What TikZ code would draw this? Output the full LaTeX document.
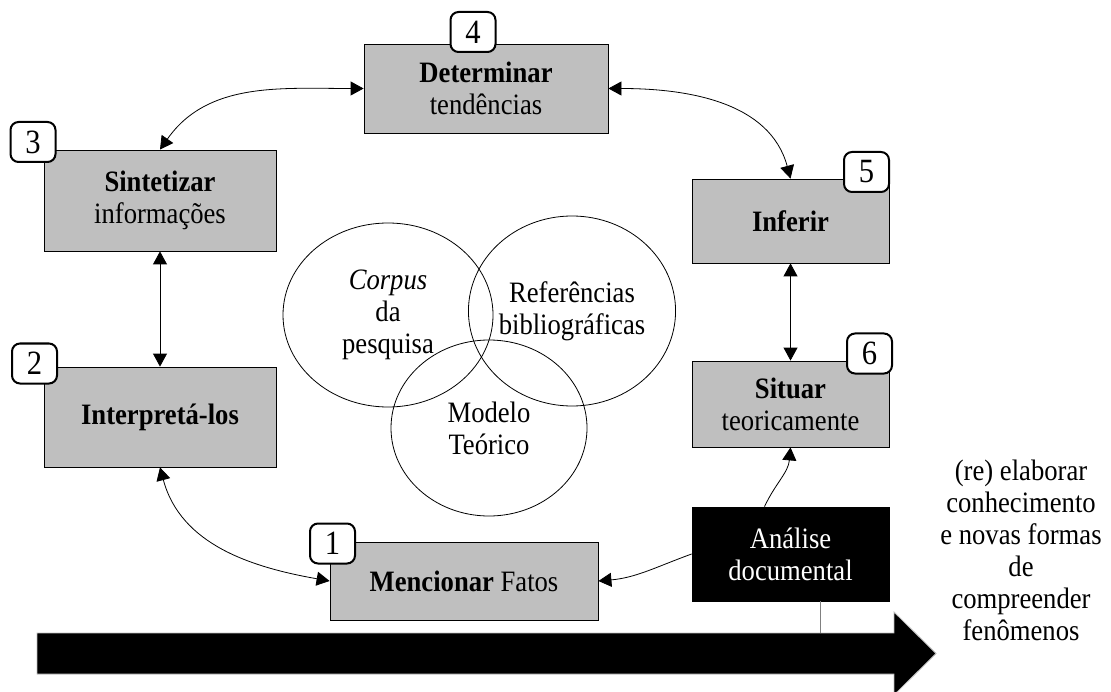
\documentclass[tikz,border=0pt]{standalone}
\usepackage{fontspec}
\setmainfont{Liberation Serif}[FakeStretch=0.9]
\usetikzlibrary{shapes,arrows.meta}
\tikzstyle{block} = [rectangle, draw, fill=gray!50, align=center, inner sep=2pt]
\tikzstyle{docblock} = [rectangle, draw, fill=black, text=white, align=center, inner sep=2pt]
\tikzstyle{tag} = [rectangle, draw, rounded corners=4pt, line width=1pt, fill=white, minimum width=22.5pt, minimum height=20pt, inner sep=0pt, font=\fontsize{17}{20}\selectfont]
\tikzstyle{bubble} = [draw, ellipse, inner sep=0pt, align=center]
\tikzstyle{line} = [draw, <->]
\tikzstyle{oneway} = [draw, ->]

\begin{document}
\begin{tikzpicture}[x=1pt, y=1pt, font=\fontsize{14.8}{16}\selectfont, >={Triangle[length=6.5pt,width=7pt]}]
      \useasboundingbox (0,0) rectangle (555.5,345.5);
      % sources
      \node [bubble, minimum width=105pt, minimum height=92pt] (corpus) at (194,188) {\textit{Corpus}\\da\\pesquisa};
      \node [bubble, minimum width=100pt, minimum height=95pt] (refs) at (286,190) {Referências\\bibliográficas};
      \node [bubble, minimum width=98pt, minimum height=88pt] (modelo) at (244.5,131.5) {Modelo\\Teórico};

      % steps
      \node [block, minimum width=134pt, minimum height=39pt] (fatos) at (232,55) {\textbf{Mencionar} Fatos};
      \node [block, minimum width=116pt, minimum height=50pt] (interp) at (80,137) {\textbf{Interpretá-los}};
      \node [block, minimum width=116pt, minimum height=50.5pt] (sintese) at (80,245.25) {\textbf{Sintetizar}\\informações};
      \node [block, minimum width=122pt, minimum height=44.5pt] (tend) at (243,301.25) {\textbf{Determinar}\\tendências};
      \node [block, minimum width=98.5pt, minimum height=42pt] (inferir) at (395.25,235) {\textbf{Inferir}};
      \node [block, minimum width=98.5pt, minimum height=43pt] (situar) at (395.25,143.5) {\textbf{Situar}\\teoricamente};
      \node [docblock, minimum width=98.5pt, minimum height=47pt] (doc) at (395.25,68.5) {Análise\\documental};

      \node [tag] (n1) at (166.25,73.75) {1};
      \node [tag] (n2) at (17.25,163.75) {2};
      \node [tag] (n3) at (16.5,274.5) {3};
      \node [tag] (n4) at (236.5,329.5) {4};
      \node [tag] (n5) at (433.25,259.5) {5};
      \node [tag] (n6) at (434.75,168.75) {6};

      \node [align=center] (goal) at (510.5,70.5) {(re) elaborar\\conhecimento\\e novas formas\\de\\compreender\\fenômenos};

      % big arrow
      \draw [draw=gray!50, fill=black] (18.5,8.5) -- (447,8.5) -- (447,-2) -- (468,18.75) -- (447,39.5) -- (447,29) -- (18.5,29) -- cycle;
      \coordinate (bartop) at (410,29);

      \path [line] (tend.west) to[out=180, in=55] (sintese.north);
      \path [line] (tend.east) to[out=0, in=105] (inferir.north);
      \path [line] (sintese.south) -- (interp.north);
      \path [line] (interp.south) to[out=-75, in=170] (fatos.west);
      \path [line] (inferir.south) -- (situar.north);
      \path [oneway] (doc.west) to[out=200, in=5] (fatos.east);
      \path [oneway] ([xshift=-13pt]doc.north) to[out=65, in=-95] (situar.south);
      \draw [gray] (bartop |- doc.south) -- (bartop);
    \end{tikzpicture}
\end{document}
